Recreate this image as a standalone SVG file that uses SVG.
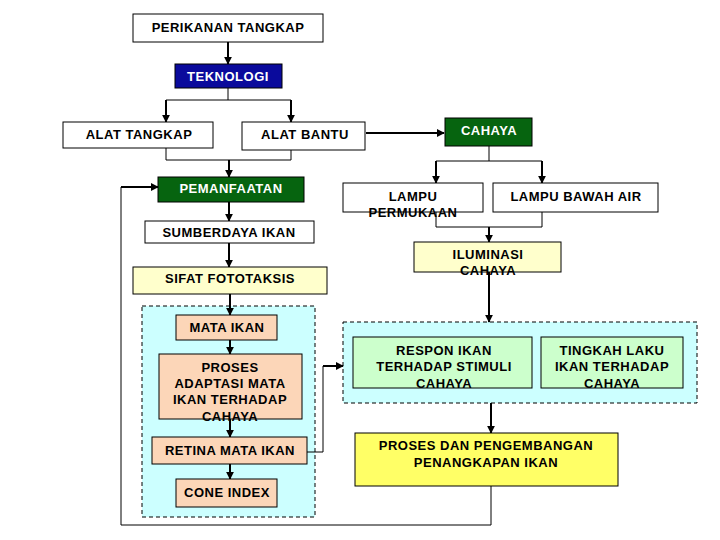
<svg xmlns="http://www.w3.org/2000/svg" width="720" height="540" viewBox="0 0 720 540">
<defs>
<marker id="ah" viewBox="0 0 10 10" refX="9" refY="5" markerWidth="4" markerHeight="4" orient="auto" markerUnits="strokeWidth">
<path d="M0,0 L10,5 L0,10 z" fill="#000"/>
</marker>
<style>
text{font-family:"Liberation Sans",Arial,sans-serif;font-weight:bold;font-size:13px;letter-spacing:0.5px;text-anchor:middle;fill:#000}
.box{stroke:#000;stroke-width:1}
.w{fill:#fff}
.navy{fill:#0a0a9c}
.dg{fill:#06640f}
.ly{fill:#ffffcc}
.y{fill:#ffff66}
.pe{fill:#fcd6b8}
.lg{fill:#ccffcc}
.grp{fill:#ccffff;stroke:#000;stroke-width:1;stroke-dasharray:4,3}
.wt{fill:#fff}
.c{fill:none;stroke:#000;stroke-width:1}
.a{fill:none;stroke:#000;stroke-width:2;marker-end:url(#ah)}
</style>
</defs>
<rect width="720" height="540" fill="#fff"/>
<g id="grp-mata"><rect class="grp" x="142" y="306" width="173" height="211"/></g>
<g id="grp-respon"><rect class="grp" x="343" y="322" width="354" height="81"/></g>
<g id="connectors">
<path class="a" d="M228,42 V64"/>
<path class="c" d="M228,88 V100 M166,100 H291"/>
<path class="a" d="M166,100 V122"/>
<path class="a" d="M291,100 V122"/>
<path class="c" d="M166,148 V160 M291,150 V160 M166,160 H291"/>
<path class="a" d="M229,160 V177"/>
<path class="a" d="M366,133 H444"/>
<path class="c" d="M489,146 V161 M436,161 H542"/>
<path class="a" d="M436,161 V183"/>
<path class="a" d="M542,161 V183"/>
<path class="c" d="M436,212 V227 M542,212 V227 M436,227 H542"/>
<path class="a" d="M489,227 V242"/>
<path class="a" d="M489,272 V322"/>
<path class="a" d="M229,202 V221"/>
<path class="a" d="M229,243 V267"/>
<path class="a" d="M230,294 V315"/>
<path class="a" d="M230,340 V354"/>
<path class="a" d="M230,419 V437"/>
<path class="a" d="M230,464 V479"/>
<path class="c" d="M307,452 H323 V366"/>
<path class="a" d="M323,366 H343"/>
<path class="a" d="M491,403 V433"/>
<path class="c" d="M491,486 V525 H121 V187"/>
<path class="a" d="M121,187 H158"/>
</g>
<g id="n-perikanan"><rect class="box w" x="133" y="14" width="190" height="28"/><text x="228" y="32">PERIKANAN TANGKAP</text></g>
<g id="n-teknologi"><rect class="box navy" x="175" y="64" width="107" height="24"/><text class="wt" x="228" y="81">TEKNOLOGI</text></g>
<g id="n-alat-tangkap"><rect class="box w" x="63" y="122" width="150" height="26"/><text x="139" y="139">ALAT TANGKAP</text></g>
<g id="n-alat-bantu"><rect class="box w" x="242" y="122" width="123" height="28"/><text x="305" y="139">ALAT BANTU</text></g>
<g id="n-cahaya"><rect class="box dg" x="445" y="118" width="87" height="28"/><text class="wt" x="489" y="135">CAHAYA</text></g>
<g id="n-lampu-permukaan"><rect class="box w" x="343" y="183" width="140" height="29"/><text x="413" y="201">LAMPU</text><text x="413" y="217">PERMUKAAN</text></g>
<g id="n-lampu-bawah"><rect class="box w" x="493" y="183" width="165" height="29"/><text x="576" y="201">LAMPU BAWAH AIR</text></g>
<g id="n-iluminasi"><rect class="box ly" x="414" y="242" width="147" height="30"/><text x="488" y="259">ILUMINASI</text><text x="488" y="275">CAHAYA</text></g>
<g id="n-pemanfaatan"><rect class="box dg" x="158" y="177" width="146" height="25"/><text class="wt" x="231" y="193">PEMANFAATAN</text></g>
<g id="n-sumberdaya"><rect class="box w" x="145" y="221" width="169" height="22"/><text x="229" y="237">SUMBERDAYA IKAN</text></g>
<g id="n-sifat"><rect class="box ly" x="133" y="267" width="194" height="27"/><text x="230" y="283">SIFAT FOTOTAKSIS</text></g>
<g id="n-mata-ikan"><rect class="box pe" x="176" y="315" width="101" height="25"/><text x="227" y="332">MATA IKAN</text></g>
<g id="n-proses-adaptasi"><rect class="box pe" x="159" y="354" width="143" height="65"/><text x="230" y="372">PROSES</text><text x="230" y="388">ADAPTASI MATA</text><text x="230" y="404">IKAN TERHADAP</text><text x="230" y="421">CAHAYA</text></g>
<g id="n-retina"><rect class="box pe" x="152" y="437" width="155" height="27"/><text x="230" y="455">RETINA MATA IKAN</text></g>
<g id="n-cone"><rect class="box pe" x="176" y="479" width="101" height="28"/><text x="227" y="497">CONE INDEX</text></g>
<g id="n-respon"><rect class="box lg" x="353" y="337" width="179" height="51"/><text x="444" y="355">RESPON IKAN</text><text x="444" y="371">TERHADAP STIMULI</text><text x="444" y="388">CAHAYA</text></g>
<g id="n-tingkah"><rect class="box lg" x="541" y="337" width="142" height="51"/><text x="612" y="355">TINGKAH LAKU</text><text x="612" y="371">IKAN TERHADAP</text><text x="612" y="388">CAHAYA</text></g>
<g id="n-proses-dan"><rect class="box y" x="355" y="433" width="263" height="53"/><text x="486" y="450">PROSES DAN PENGEMBANGAN</text><text x="486" y="467">PENANGKAPAN IKAN</text></g>
</svg>
